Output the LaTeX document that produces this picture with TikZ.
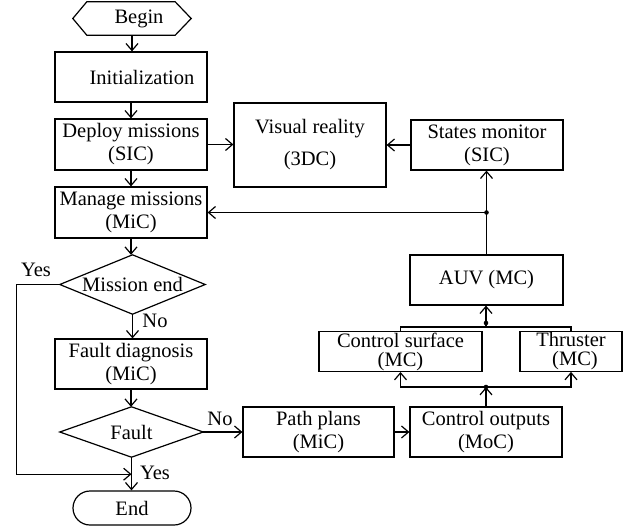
\documentclass[tikz,border=0pt]{standalone}
\usepackage{fontspec}
\setmainfont{Liberation Serif}
\usetikzlibrary{arrows.meta}
\begin{document}
\begin{tikzpicture}[x=1pt,y=-1pt,
 every node/.style={font=\fontsize{20.5}{23}\selectfont},
 box/.style={draw,line width=1.2pt,minimum width=152pt,minimum height=50pt,align=center,inner sep=1pt},
 plain/.style={minimum width=118pt,minimum height=33pt,inner sep=0pt,align=center},
 dia/.style={minimum width=145pt,minimum height=59pt,inner sep=0pt,align=center},
 arr/.style={line width=1.2pt,-{Straight Barb[length=7pt,width=12pt,line width=1.2pt]}},
 ln/.style={line width=1.2pt},
 lbl/.style={inner sep=0pt}
]
\useasboundingbox (0,0) rectangle (631,527);

% nodes
\node[plain] (begin) at (132,18.5) {\hspace{14pt}Begin};
\draw[ln] (begin.west) -- ([xshift=14pt]begin.north west) -- ([xshift=-16pt]begin.north east) -- (begin.east) -- ([xshift=-16pt]begin.south east) -- ([xshift=14pt]begin.south west) -- cycle;

\node[box] (init) at (131,77) {\hspace{22pt}Initialization};
\node[box,minimum height=51pt] (deploy) at (131,144.5) {Deploy missions\\(SIC)};
\node[box,minimum height=84pt] (visual) at (310,145) {Visual reality\\[9pt](3DC)};
\node[box] (states) at (487,145) {States monitor\\(SIC)};
\node[box,minimum height=51pt] (manage) at (131,212.5) {Manage missions\\(MiC)};

\node[dia] (mend) at (132.5,284.5) {Mission end};
\draw[ln] (mend.west) -- (mend.north) -- (mend.east) -- (mend.south) -- cycle;

\node[box] (fdiag) at (131,364) {Fault diagnosis\\(MiC)};

\node[dia,minimum width=143pt,minimum height=50pt] (fault) at (131.5,432) {Fault};
\draw[ln] (fault.west) -- (fault.north) -- (fault.east) -- (fault.south) -- cycle;

\node[box,minimum width=151pt] (path) at (318.5,432) {Path plans\\(MiC)};
\node[box] (ctrl) at (486,432) {Control outputs\\(MoC)};
\node[box,minimum width=153pt] (auv) at (486.5,280) {AUV (MC)};
\node[box,minimum width=163pt,minimum height=39pt] (cs) at (400.5,351.5) {Control surface\\[-4pt](MC)};
\node[box,minimum width=102pt,minimum height=39pt] (thr) at (571,351.5) {Thruster\\[-4pt]\hspace{8pt}(MC)};
\node[box,minimum width=118pt,minimum height=34pt,rounded corners=17pt] (end) at (132,508) {End};

% labels
\node[lbl] (yes1) at (36,270) {Yes};
\node[lbl] (no1) at (155,321) {No};
\node[lbl] (no2) at (220,419) {No};
\node[lbl] (yes2) at (155,473) {Yes};

% connectors
\draw[arr] (begin.south) -- (begin.south |- init.north);
\draw[arr] (init) -- (deploy);
\draw[arr] (deploy) -- (manage);
\draw[arr] (deploy.east) -- (deploy.east -| visual.west);
\draw[arr] (states.west) -- (states.west -| visual.east);
\draw[arr] (manage.south) -- (manage.south |- mend.north);
\draw[arr] (mend.south) -- (mend.south |- fdiag.north);
\draw[arr] (fdiag.south) -- (fdiag.south |- fault.north);
\draw[arr] (fault.east) -- (fault.east -| path.west);
\draw[arr] (path) -- (ctrl);
\draw[arr] (fault.south) -- (fault.south |- end.north);
\path (fault.south) ++(0,17) coordinate (yj);
\draw[arr] (mend.west) -- ++(-43,0) |- (yj);

% lower bus
\coordinate (lj) at (486,387);
\draw[arr] (ctrl.north) -- (lj);
\draw[arr] (lj) -| (cs.south);
\draw[arr] (lj) -| (thr.south);
\fill (lj) circle (2.3pt);

% upper bus
\coordinate (uj) at (486,327);
\coordinate (ud) at (486,323);
\draw[ln] (cs.north) |- (uj) -| (thr.north);
\draw[ln] (uj) -- (ud);
\draw[arr] (ud) -- (ud |- auv.south);
\fill (ud) circle (2.3pt);

% feedback
\draw[arr] (auv.north) -- (auv.north |- states.south);
\coordinate (mj) at (auv.north |- manage.east);
\draw[arr] (mj) -- (manage.east);
\fill (mj) circle (2.3pt);
\end{tikzpicture}
\end{document}
